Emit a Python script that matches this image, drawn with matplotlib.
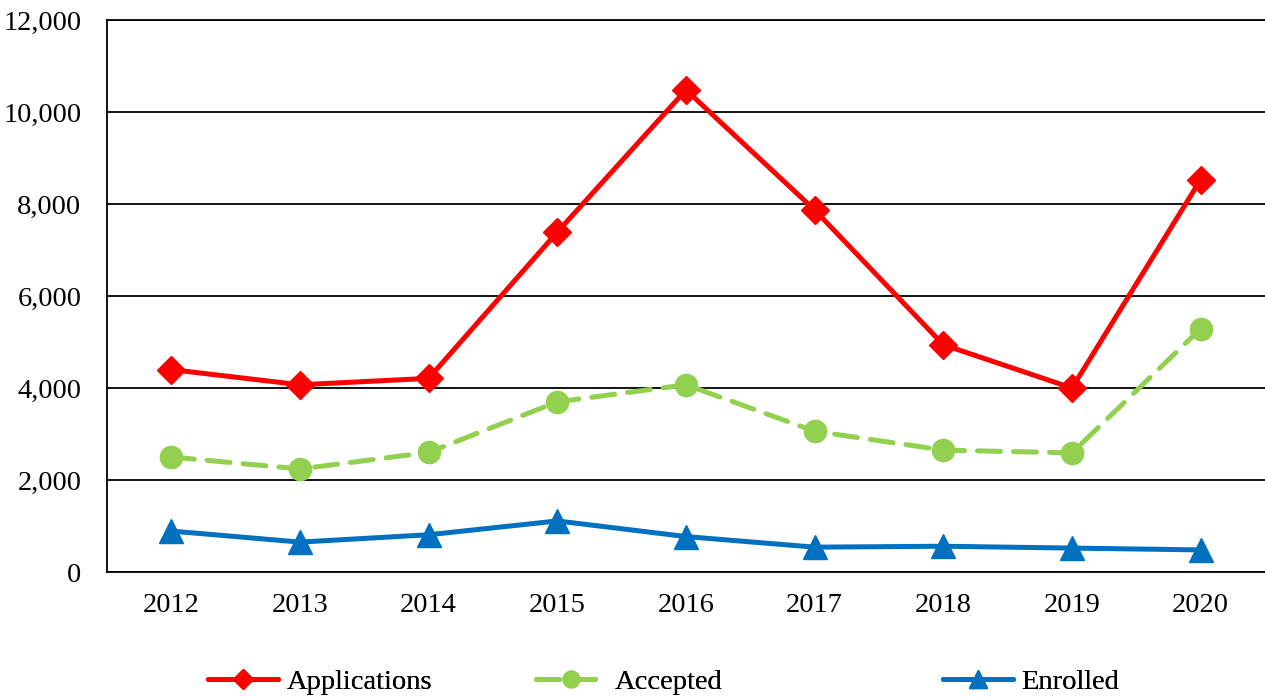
import matplotlib
matplotlib.use("Agg")
import matplotlib.pyplot as plt
from matplotlib.ticker import FuncFormatter, MultipleLocator

years = ["2012", "2013", "2014", "2015", "2016", "2017", "2018", "2019", "2020"]
applications = [4400, 4070, 4210, 7390, 10480, 7870, 4940, 4000, 8530]
accepted = [2500, 2240, 2600, 3700, 4070, 3060, 2650, 2590, 5290]
enrolled = [890, 650, 810, 1110, 770, 540, 560, 520, 480]

plt.rcParams['font.family'] = ['Liberation Serif', 'DejaVu Serif']

fig = plt.figure(figsize=(12.65, 6.97), dpi=100)
ax = fig.add_axes([107/1265, 1-572/697, 1-107/1265, (572-20)/697])

x = list(range(len(years)))
l1, = ax.plot(x, applications, color='#FF0000', lw=3.6, marker='D', ms=14,
              label='Applications', solid_capstyle='round', zorder=4)
l2, = ax.plot(x, accepted, color='#92D050', lw=3.6, marker='o', ms=16,
              dashes=(4.6, 2.6), label='Accepted', dash_capstyle='round', zorder=3)
l3, = ax.plot(x, enrolled, color='#0070C0', lw=3.6, marker='^', ms=17,
              label='Enrolled', solid_capstyle='round', zorder=3)

ax.set_xlim(-0.5, len(years)-0.5)
ax.set_ylim(0, 12000)
ax.set_xticks(x)
ax.set_xticklabels(years)
ax.yaxis.set_major_locator(MultipleLocator(2000))
ax.yaxis.set_major_formatter(FuncFormatter(lambda v, p: f"{int(v):,}"))
ax.grid(axis='y', color='black', lw=1.3)
ax.set_axisbelow(True)
ax.spines['right'].set_visible(False)
for s in ['top', 'left', 'bottom']:
    ax.spines[s].set_linewidth(1.3)
ax.tick_params(length=0, labelsize=20.5, pad=15)
ax.tick_params(axis='y', pad=18.5)

for h, xpos in [(l1, 208), (l2, 536), (l3, 943)]:
    leg = fig.legend(handles=[h], loc='center left',
                     bbox_to_anchor=(xpos/1265, 1-682/697), frameon=False,
                     fontsize=20.5, handlelength=2.45, handletextpad=0.3,
                     borderpad=0, borderaxespad=0, markerscale=0.75)
    fig.add_artist(leg)

fig.savefig("out.png", dpi=100)
